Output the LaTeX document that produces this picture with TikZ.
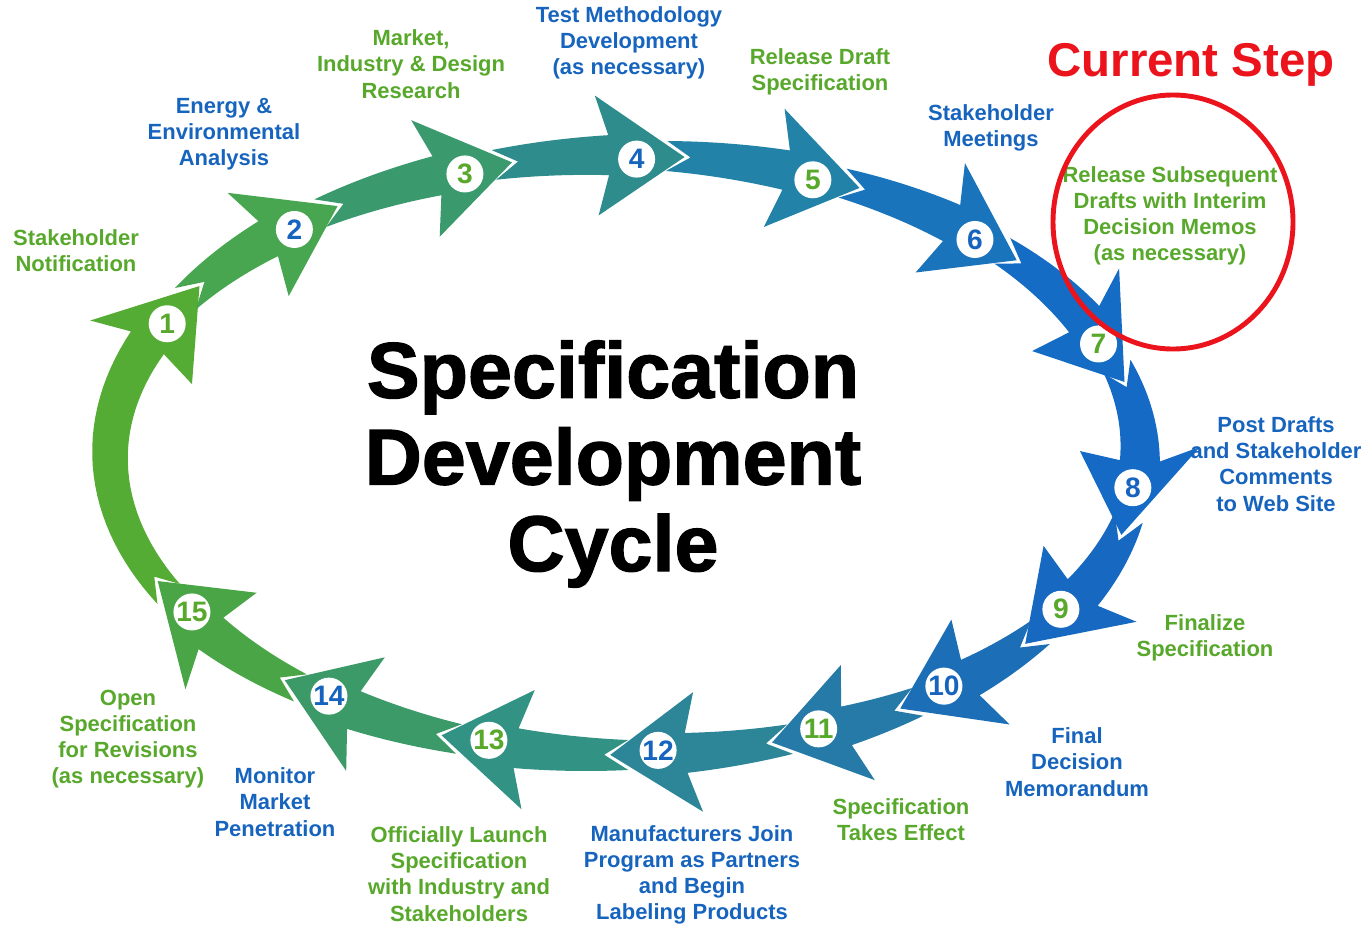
\documentclass[tikz,border=0pt]{standalone}
\usepackage{fontspec}
\setmainfont{Liberation Sans}
\newfontfamily\titlefont{Liberation Sans}[BoldFeatures={FakeBold=1.6}]
\usetikzlibrary{shapes.geometric}

\definecolor{tgreen}{RGB}{88,168,44}
\definecolor{tblue}{RGB}{22,100,190}
\definecolor{ringred}{RGB}{236,20,28}
\definecolor{arr1}{RGB}{84,172,52}
\definecolor{arr2}{RGB}{72,165,80}
\definecolor{arr3}{RGB}{58,154,110}
\definecolor{arr4}{RGB}{46,140,140}
\definecolor{arr5}{RGB}{34,130,168}
\definecolor{arr6}{RGB}{26,116,188}
\definecolor{arr7}{RGB}{20,108,196}
\definecolor{arr8}{RGB}{20,106,196}
\definecolor{arr9}{RGB}{22,104,192}
\definecolor{arr10}{RGB}{28,110,182}
\definecolor{arr11}{RGB}{38,122,168}
\definecolor{arr12}{RGB}{44,134,152}
\definecolor{arr13}{RGB}{50,146,132}
\definecolor{arr14}{RGB}{60,154,104}
\definecolor{arr15}{RGB}{74,165,70}

% curved step arrow on the cycle ellipse
% #1 angle of previous head, #2 angle of this head, #3 fill, #4 number, #5 number colour
\newcommand\cyclearrow[5]{%
  \pgfmathsetmacro\pnotch{#1+dg(#1,0.54)}%
  \pgfmathsetmacro\ptail{#1+dg(#1,0.30)}%
  \pgfmathsetmacro\pjoin{#2-dg(#2,0.28)}%
  \pgfmathsetmacro\pbarb{#2-dg(#2,0.40)}%
  \pgfmathsetmacro\ptip{#2+dg(#2,0.48)}%
  \fill[#3] ({ex(\pnotch,0)},{ey(\pnotch,0)})
    -- plot[domain=\ptail:\pjoin,samples=30,variable=\u]
       ({ex(\u,0.15+0.05*(\u-\ptail)/(\pjoin-\ptail))},{ey(\u,0.15+0.05*(\u-\ptail)/(\pjoin-\ptail))})
    -- ({ex(\pbarb,0.6)},{ey(\pbarb,0.6)})
    -- ({ex(\ptip,0)},{ey(\ptip,0)})
    -- ({ex(\pbarb,-0.6)},{ey(\pbarb,-0.6)})
    -- plot[domain=\pjoin:\ptail,samples=30,variable=\u]
       ({ex(\u,-0.15-0.05*(\u-\ptail)/(\pjoin-\ptail))},{ey(\u,-0.15-0.05*(\u-\ptail)/(\pjoin-\ptail))})
    -- cycle;
  \node[numdot,text=#5] (n#4) at ({ex(#2,-0.04)},{ey(#2,-0.04)}) {#4};
}

\begin{document}
\begin{tikzpicture}
  [x=2cm,y=-2cm,
   declare function={
     en(\x)=sqrt((3.0*cos(\x))^2+(5.15*sin(\x))^2);
     ex(\x,\y)=6.25+5.15*cos(\x)+\y*3.0*cos(\x)/en(\x);
     ey(\x,\y)=4.55+3.0*sin(\x)+\y*5.15*sin(\x)/en(\x);
     dg(\x,\y)=deg(\y/en(\x));
   },
   stepL/.style={align=center,font=\bfseries\fontsize{12.5}{14.9}\selectfont},
   gL/.style={stepL,text=tgreen},
   bL/.style={stepL,text=tblue},
   numdot/.style={circle,fill=white,inner sep=0pt,minimum size=0.74cm,
     font=\bfseries\fontsize{16}{16}\selectfont},
  ]
 \useasboundingbox (0,0) rectangle (13.67,9.25);

 % the fifteen arrows round the cycle
 \cyclearrow{147.8}{206.5}{arr1}{1}{tgreen}
 \cyclearrow{206.5}{229.8}{arr2}{2}{tblue}
 \cyclearrow{229.8}{251.8}{arr3}{3}{tgreen}
 \cyclearrow{251.8}{271.3}{arr4}{4}{tblue}
 \cyclearrow{271.3}{291.5}{arr5}{5}{tgreen}
 \cyclearrow{291.5}{313.1}{arr6}{6}{tblue}
 \cyclearrow{313.1}{337.8}{arr7}{7}{tgreen}
 \cyclearrow{337.8}{366.4}{arr8}{8}{tblue}
 \cyclearrow{366.4}{391.6}{arr9}{9}{tgreen}
 \cyclearrow{391.6}{411.5}{arr10}{10}{tblue}
 \cyclearrow{411.5}{427.8}{arr11}{11}{tgreen}
 \cyclearrow{427.8}{446.3}{arr12}{12}{tblue}
 \cyclearrow{446.3}{465.4}{arr13}{13}{tgreen}
 \cyclearrow{465.4}{485.3}{arr14}{14}{tblue}
 \cyclearrow{485.3}{507.8}{arr15}{15}{tgreen}

 % step labels
 \node[gL] (s1) at (0.76,2.51) {Stakeholder\\Notification};
 \node[bL] (s2) at (2.24,1.34) {Energy \&\\Environmental\\Analysis};
 \node[gL] (s3) at (4.11,0.64) {Market,\\Industry \& Design\\Research};
 \node[bL] (s4) at (6.29,0.43) {Test Methodology\\Development\\(as necessary)};
 \node[gL] (s5) at (8.20,0.72) {Release Draft\\Specification};
 \node[bL] (s6) at (9.91,1.28) {Stakeholder\\Meetings};
 \node[gL] (s7) at (11.70,2.16) {Release Subsequent\\Drafts with Interim\\Decision Memos\\(as necessary)};
 \node[bL] (s8) at (12.76,4.64) {Post Drafts\\and Stakeholder\\Comments\\to Web Site};
 \node[gL] (s9) at (12.05,6.38) {Finalize\\Specification};
 \node[bL] (s10) at (10.77,7.62) {Final\\Decision\\Memorandum};
 \node[gL] (s11) at (9.01,8.20) {Specification\\Takes Effect};
 \node[bL] (s12) at (6.92,8.75) {Manufacturers Join\\Program as Partners\\and Begin\\Labeling Products};
 \node[gL] (s13) at (4.59,8.74) {Officially Launch\\Specification\\with Industry and\\Stakeholders};
 \node[bL] (s14) at (2.75,8.02) {Monitor\\Market\\Penetration};
 \node[gL] (s15) at (1.28,7.39) {Open\\Specification\\for Revisions\\(as necessary)};

 % title in the middle
 \node[align=center,font=\titlefont\bfseries\fontsize{45}{49.3}\selectfont] (title) at (6.13,4.64)
   {Specification\\Development\\Cycle};

 % current step marker
 \node[text=ringred,font=\bfseries\fontsize{27}{27}\selectfont] (current) at (11.91,0.65) {Current Step};
 \node[ellipse,draw=ringred,line width=2.8pt,minimum width=4.8cm,minimum height=5.08cm] (ring) at (11.73,2.22) {};
\end{tikzpicture}
\end{document}
